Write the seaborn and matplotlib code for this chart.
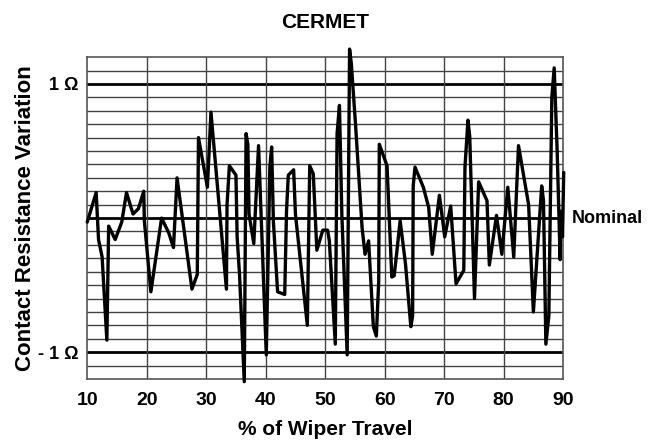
import numpy as np
import pandas as pd
import matplotlib
matplotlib.use("Agg")
import matplotlib.pyplot as plt
import seaborn as sns

# wiper travel (%) and resistance variation (ohm)
travel = [10.0, 11.5, 11.9, 12.5, 13.3, 13.6, 14.7, 15.8, 16.6, 17.7, 18.6, 19.5, 19.6,
          20.7, 22.5, 23.7, 24.5, 25.1, 27.6, 28.5, 28.7, 30.2, 30.8, 33.4, 33.5, 33.9,
          35.0, 35.2, 35.6, 36.4, 36.7, 37.0, 37.2, 38.0, 38.8, 40.1, 40.7, 41.0, 41.3,
          42.0, 43.2, 43.5, 43.8, 44.7, 45.0, 47.0, 47.4, 48.0, 48.6, 49.6, 50.4, 50.7,
          51.7, 52.0, 52.4, 52.8, 53.7, 54.1, 54.4, 55.1, 56.2, 56.7, 57.3, 58.1, 58.6,
          59.0, 59.1, 60.4, 61.2, 61.6, 62.0, 62.6, 63.5, 64.4, 64.7, 64.8, 65.1, 66.5,
          67.4, 68.0, 69.2, 70.1, 71.1, 72.0, 73.3, 73.5, 74.0, 74.3, 75.1, 75.8, 77.2,
          77.6, 78.8, 79.7, 80.7, 81.7, 82.1, 82.5, 84.2, 85.0, 86.4, 86.7, 87.1, 87.6,
          88.1, 88.5, 89.0, 89.5, 89.6, 89.9, 90.1]
variation = [-0.03, 0.19, -0.16, -0.29, -0.91, -0.06, -0.16, -0.03, 0.19, 0.03, 0.07, 0.20, -0.02,
             -0.55, 0.00, -0.11, -0.22, 0.30, -0.53, -0.42, 0.60, 0.23, 0.79, -0.53, 0.10, 0.39,
             0.32, -0.14, -0.42, -1.22, 0.63, 0.55, 0.03, -0.19, 0.54, -1.02, 0.38, 0.53, -0.03,
             -0.55, -0.57, 0.05, 0.32, 0.36, 0.03, -0.80, 0.39, 0.33, -0.24, -0.09, -0.09, -0.17,
             -0.94, 0.63, 0.84, 0.03, -1.02, 1.26, 1.15, 0.70, -0.07, -0.27, -0.17, -0.81, -0.88,
             -0.47, 0.55, 0.39, -0.44, -0.43, -0.27, -0.02, -0.34, -0.81, -0.73, 0.24, 0.38, 0.23,
             0.08, -0.27, 0.17, -0.14, 0.09, -0.49, -0.39, 0.38, 0.73, 0.61, -0.60, 0.27, 0.13,
             -0.35, 0.02, -0.27, 0.23, -0.29, 0.13, 0.54, 0.10, -0.70, 0.24, 0.13, -0.94, -0.73,
             0.90, 1.12, 0.50, -0.31, 0.05, -0.14, 0.34]

x_ticks = [10, 20, 30, 40, 50, 60, 70, 80, 90]
y_ticks = [-1, 1]
y_tick_labels = ["- 1 \u03a9", "1 \u03a9"]

df = pd.DataFrame({"travel": travel, "variation": variation})

sns.set_style("white")
plt.rcParams["font.family"] = ["Liberation Sans", "DejaVu Sans"]
plt.rcParams["text.color"] = "black"
plt.rcParams["axes.labelcolor"] = "black"
plt.rcParams["xtick.color"] = "black"
plt.rcParams["ytick.color"] = "black"

fig = plt.figure(figsize=(6.51, 4.43), dpi=100)
ax = fig.add_axes([0.134, 0.1445, 0.731, 0.7265])

# grid lines every 0.1 ohm, heavy at -1, 0, +1
for v in np.arange(-11, 12) / 10:
    if round(abs(v), 2) in (0.0, 1.0):
        ax.axhline(v, color="black", lw=2.0, zorder=1)
    else:
        ax.axhline(v, color="#444444", lw=1.0, zorder=1)
for xv in x_ticks[1:-1]:
    ax.axvline(xv, color="#444444", lw=1.0, zorder=1)

sns.lineplot(data=df, x="travel", y="variation", ax=ax, color="black",
             lw=2.4, estimator=None, sort=False, zorder=3, clip_on=False)

ax.set_xlim(10, 90)
ax.set_ylim(-1.2, 1.2)
ax.set_xticks(x_ticks)
ax.set_xticklabels([str(t) for t in x_ticks], fontsize=14, fontweight="bold")
ax.set_yticks(y_ticks)
ax.set_yticklabels(y_tick_labels, fontsize=13, fontweight="bold")
ax.tick_params(axis="x", length=0, pad=9.5)
ax.tick_params(axis="y", length=0, pad=6.5)

for s in ax.spines.values():
    s.set_color("#555555")
    s.set_linewidth(1.2)

fig.text(325 / 651, 1 - 23 / 443, "CERMET", fontsize=15, fontweight="bold",
         ha="center", va="center")
ax.set_xlabel("% of Wiper Travel", fontsize=15, fontweight="bold", va="center")
ax.xaxis.set_label_coords(0.5, -0.158)
ax.set_ylabel("Contact Resistance Variation", fontsize=16, fontweight="bold",
              va="center", ha="center")
ax.yaxis.set_label_coords(-0.130, 0.5)
ax.text(1.019, 0.5, "Nominal", transform=ax.transAxes, fontsize=13,
        fontweight="bold", va="center", ha="left")

fig.savefig("out.png", dpi=100)
